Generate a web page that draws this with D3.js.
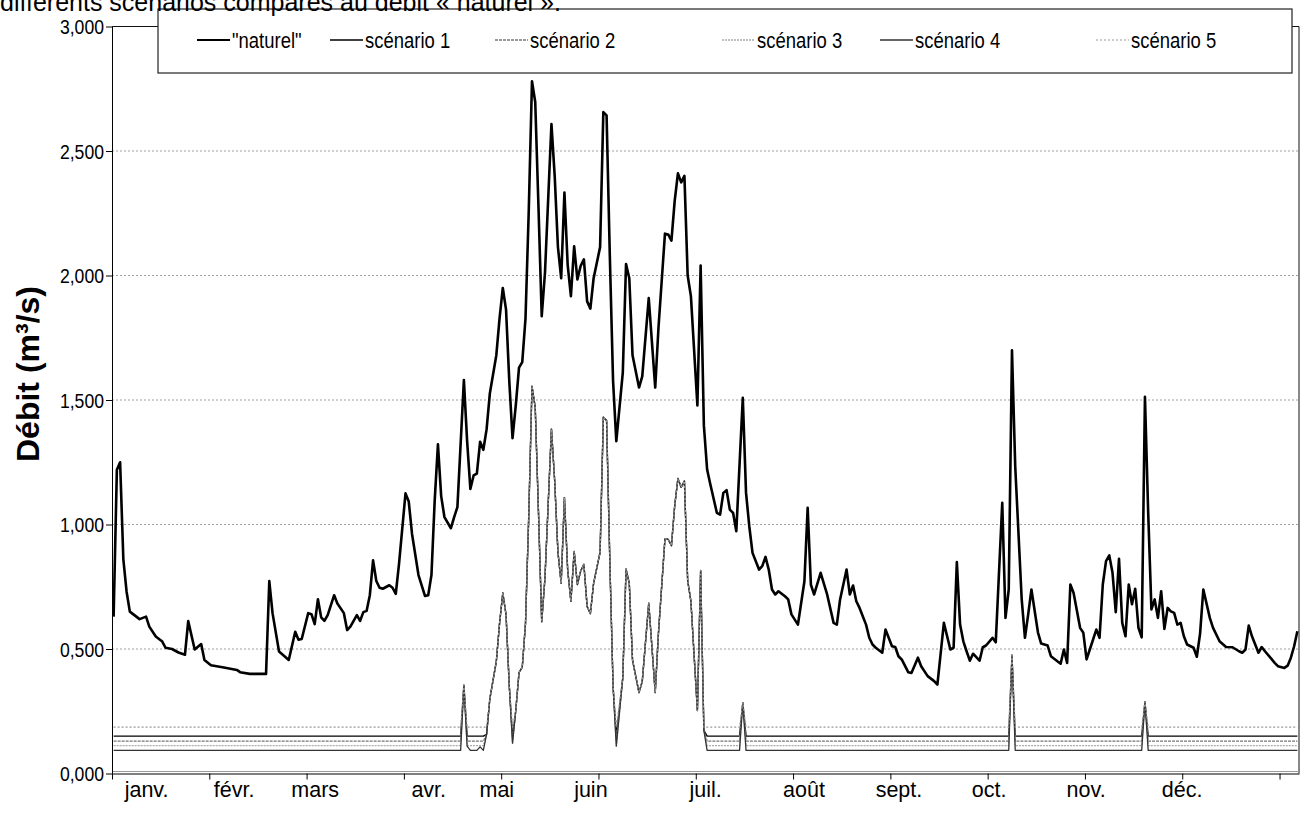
<!DOCTYPE html>
<html>
<head>
<meta charset="utf-8">
<script src="https://cdnjs.cloudflare.com/ajax/libs/d3/7.8.5/d3.min.js"></script>
<style>
  body { margin: 0; background: #fff; }
  svg { display: block; font-family: "Liberation Sans", Arial, sans-serif; }
</style>
</head>
<body>
<svg id="chart" width="1301" height="817"></svg>
<script>
// ---- data -------------------------------------------------------------
const seriesNames = ['"naturel"', "scénario 1", "scénario 2", "scénario 3", "scénario 4", "scénario 5"];

const monthLabels = ["janv.", "févr.", "mars", "avr.", "mai", "juin", "juil.", "août", "sept.", "oct.", "nov.", "déc."];
const tickDays = [0, 30, 60, 90, 120, 150, 180, 210, 240, 270, 300, 330, 360];

const yTicks = [0, 0.5, 1, 1.5, 2, 2.5, 3];
const yTickLabels = ["0,000", "0,500", "1,000", "1,500", "2,000", "2,500", "3,000"];

// natural flow, day of year -> discharge (thousand m3/s)
const natDay = [0,1,2,3,4,5,8,10,11,13,15,16,18,20,22,23,25,27,28,30,34,38,39,42,47,48,49,51,54,56,57,58,60,61,62,63,64,65,66,68,69,71,72,73,75,76,77,78,79,80,81,82,83,85,86,87,88,90,91,92,94,96,97,98,99,100,101,102,104,105,106,108,109,110,111,112,113,114,115,116,118,119,120,121,122,123,124,125,126,127,128,129,130,131,132,133,135,136,137,138,139,140,141,142,143,144,145,146,147,148,150,151,152,153,154,155,157,158,159,160,162,163,165,167,168,170,171,172,173,174,175,176,177,178,180,181,182,183,184,186,187,188,189,190,191,192,194,195,196,197,199,200,201,202,203,204,205,207,208,209,211,213,214,215,216,218,220,222,223,224,226,227,228,229,230,232,233,234,235,237,238,240,241,242,243,245,246,248,249,251,253,254,256,258,259,260,261,262,263,264,265,267,268,269,271,272,274,275,276,277,278,280,281,282,283,285,286,288,289,291,292,293,294,295,296,298,299,300,301,303,304,305,306,307,308,309,310,311,312,313,314,315,316,317,318,319,320,321,322,323,324,325,326,327,328,329,330,331,333,334,335,336,338,339,341,343,345,347,348,349,350,351,352,353,354,355,357,358,359,361,362,363,364,365];
const natVal = [0.63,1.22,1.25,0.86,0.73,0.65,0.62,0.63,0.59,0.55,0.53,0.505,0.50,0.486,0.477,0.612,0.498,0.52,0.456,0.435,0.426,0.416,0.407,0.40,0.40,0.773,0.644,0.49,0.456,0.569,0.537,0.54,0.644,0.64,0.60,0.70,0.627,0.613,0.636,0.716,0.683,0.644,0.576,0.59,0.636,0.613,0.648,0.653,0.716,0.856,0.773,0.746,0.742,0.756,0.746,0.721,0.842,1.125,1.092,0.963,0.797,0.713,0.716,0.797,1.096,1.322,1.114,1.03,0.985,1.03,1.07,1.58,1.335,1.143,1.197,1.204,1.332,1.30,1.382,1.526,1.68,1.828,1.95,1.863,1.576,1.347,1.478,1.63,1.652,1.828,2.258,2.78,2.697,2.276,1.837,2.01,2.608,2.40,2.114,1.989,2.333,2.043,1.917,2.117,1.984,2.038,2.065,1.896,1.867,1.989,2.114,2.656,2.643,2.078,1.576,1.335,1.61,2.046,1.989,1.68,1.55,1.595,1.909,1.55,1.79,2.168,2.165,2.14,2.30,2.41,2.374,2.40,2.0,1.917,1.478,2.04,1.398,1.221,1.161,1.047,1.04,1.127,1.138,1.06,1.047,0.973,1.509,1.127,0.993,0.886,0.819,0.833,0.87,0.819,0.739,0.719,0.732,0.712,0.699,0.639,0.598,0.772,1.067,0.758,0.719,0.806,0.719,0.605,0.598,0.699,0.819,0.719,0.755,0.692,0.665,0.598,0.545,0.518,0.505,0.485,0.578,0.511,0.508,0.471,0.458,0.407,0.404,0.465,0.431,0.391,0.371,0.357,0.605,0.498,0.505,0.849,0.598,0.531,0.491,0.453,0.481,0.453,0.507,0.514,0.545,0.527,1.087,0.625,0.739,1.70,1.234,0.699,0.545,0.639,0.739,0.567,0.522,0.514,0.471,0.451,0.441,0.498,0.444,0.759,0.725,0.585,0.565,0.458,0.498,0.578,0.545,0.759,0.853,0.876,0.806,0.648,0.862,0.605,0.551,0.759,0.68,0.742,0.585,0.547,1.513,1.047,0.659,0.699,0.625,0.732,0.581,0.665,0.651,0.645,0.598,0.605,0.551,0.518,0.505,0.469,0.562,0.739,0.625,0.585,0.531,0.508,0.507,0.491,0.485,0.498,0.594,0.551,0.518,0.485,0.508,0.491,0.46,0.444,0.431,0.424,0.433,0.465,0.511,0.571];

// scenarios: constant minimum flow, exceeded during the flood periods
const scenarioBase = [0.150, 0.130, 0.112, 0.093, 0.186];
// flood-period discharge common to all scenarios (0 = at minimum flow)
const floodDay = [107,108,109,110,112,113,114,115,116,118,119,120,121,122,123,124,125,126,127,128,129,130,131,132,133,135,136,137,138,139,140,141,142,143,144,145,146,147,148,150,151,152,153,154,155,157,158,159,160,162,163,165,167,168,170,171,172,173,174,175,176,177,178,180,181,182,183,193,194,195,276,277,278,317,318,319];
const floodVal = [0,0.355,0.11,0,0,0.107,0.075,0.157,0.30,0.45,0.603,0.725,0.638,0.351,0.122,0.253,0.405,0.427,0.603,1.033,1.555,1.47,1.05,0.61,0.785,1.383,1.175,0.889,0.764,1.108,0.818,0.692,0.892,0.759,0.813,0.84,0.671,0.642,0.764,0.889,1.431,1.418,0.853,0.351,0.11,0.385,0.821,0.764,0.455,0.325,0.37,0.684,0.325,0.565,0.943,0.94,0.915,1.075,1.185,1.149,1.175,0.775,0.692,0.253,0.815,0.173,0,0,0.284,0,0,0.475,0,0,0.288,0];

// ---- layout -----------------------------------------------------------
const svg = d3.select("#chart");
const plot = { left: 112, right: 1299, top: 26.5, bottom: 773.5 };

const x = d3.scaleLinear().domain([0, 366]).range([plot.left, plot.right]);
const y = d3.scaleLinear().domain([0, 3]).range([plot.bottom, plot.top]);
const xDay = d => x(d + 0.5);

// where each month name sits along the day axis
const monthLabelDay = [10, 37, 62, 97, 118, 147, 182.4, 212.7, 242, 269.8, 299.7, 329.3];

// narrow lettering used for tick labels and legend entries
const NARROW = 0.84;

const styles = [
  { stroke: "#000", width: 2.6 },
  { stroke: "#000", width: 1.4 },
  { stroke: "#777", width: 1.3, dash: "3,1" },
  { stroke: "#aaa", width: 1.3, dash: "2,1" },
  { stroke: "#333", width: 1.3 },
  { stroke: "#999", width: 1.2, dash: "2,2" }
];

// horizontal gridlines
svg.append("g").selectAll("line")
  .data(yTicks.filter(v => v > 0 && v < 3))
  .join("line")
  .attr("x1", plot.left).attr("x2", plot.right)
  .attr("y1", d => y(d)).attr("y2", d => y(d))
  .attr("stroke", "#a0a0a0").attr("stroke-width", 1)
  .attr("stroke-dasharray", "2,2");

// plot frame (top / right)
svg.append("path")
  .attr("d", `M${plot.left},${plot.top}H${plot.right}V${plot.bottom}`)
  .attr("fill", "none").attr("stroke", "#111").attr("stroke-width", 1);
svg.append("line")
  .attr("x1", plot.left).attr("x2", plot.right)
  .attr("y1", plot.bottom - 2).attr("y2", plot.bottom - 2)
  .attr("stroke", "#999").attr("stroke-width", 1.2);

// y axis (line + ticks), labels drawn separately in narrow lettering
const yAxis = svg.append("g")
  .attr("transform", `translate(${plot.left},0)`)
  .call(d3.axisLeft(y).tickValues(yTicks).tickFormat("").tickSize(6).tickSizeOuter(0));
yAxis.selectAll("line,path").attr("stroke", "#000");
svg.append("g").selectAll("text")
  .data(yTicks)
  .join("text")
  .attr("transform", d => `translate(${plot.left - 8},${y(d)}) scale(${NARROW},1)`)
  .attr("text-anchor", "end")
  .attr("dy", "0.36em")
  .attr("font-size", 21)
  .text((d, i) => yTickLabels[i]);

// x axis (ticks every 30 days)
const xAxis = svg.append("g")
  .attr("transform", `translate(0,${plot.bottom})`)
  .call(d3.axisBottom(x).tickValues(tickDays).tickFormat("").tickSize(6).tickSizeOuter(0));
xAxis.selectAll("line,path").attr("stroke", "#000");

// month labels
const monthAxis = svg.append("g")
  .attr("transform", `translate(0,${plot.bottom})`)
  .call(d3.axisBottom(x).tickValues(monthLabelDay.map(d => d + 0.5))
    .tickFormat((d, i) => monthLabels[i]).tickSize(0).tickPadding(8));
monthAxis.select(".domain").remove();
monthAxis.selectAll("text").attr("font-size", 21.5).attr("fill", "#000")
  .attr("font-family", '"Liberation Sans", Arial, sans-serif');

// y axis title
svg.append("text")
  .attr("transform", "translate(39,374) rotate(-90)")
  .attr("text-anchor", "middle")
  .attr("font-size", 32).attr("font-weight", "bold")
  .text("Débit (m³/s)");

// series
const line = d3.line().x(p => xDay(p[0])).y(p => y(p[1]));
const natPoints = natDay.map((d, i) => [d, natVal[i]]);
const scenarioPoints = scenarioBase.map(base => {
  const pts = [[0, base]];
  floodDay.forEach((d, i) => pts.push([d, Math.max(base, floodVal[i])]));
  pts.push([365, base]);
  return pts;
});
const allSeries = [natPoints, ...scenarioPoints];

const g = svg.append("g");
allSeries.forEach((pts, i) => {
  g.append("path")
    .attr("d", line(pts))
    .attr("fill", "none")
    .attr("stroke", styles[i].stroke)
    .attr("stroke-width", styles[i].width)
    .attr("stroke-dasharray", styles[i].dash || null)
    .attr("stroke-linejoin", "round");
});

// legend
const legend = svg.append("g");
legend.append("rect")
  .attr("x", 158).attr("y", 9).attr("width", 1134).attr("height", 64)
  .attr("fill", "#fff").attr("stroke", "#222").attr("stroke-width", 1.2);
const legendX = [197, 330, 495, 722, 880, 1096];
seriesNames.forEach((name, i) => {
  const lx = legendX[i];
  legend.append("line")
    .attr("x1", lx).attr("x2", lx + 33).attr("y1", 40).attr("y2", 40)
    .attr("stroke", styles[i].stroke)
    .attr("stroke-width", i === 0 ? 2.2 : styles[i].width)
    .attr("stroke-dasharray", styles[i].dash || null);
  legend.append("text")
    .attr("transform", `translate(${lx + 35},47.5) scale(${NARROW},1)`)
    .attr("font-size", 22)
    .text(name);
});

// title (top of the page, partly outside the frame)
svg.append("text")
  .attr("x", 0).attr("y", 11)
  .attr("font-size", 25)
  .text("différents scénarios comparés au débit « naturel ».");
</script>
</body>
</html>
